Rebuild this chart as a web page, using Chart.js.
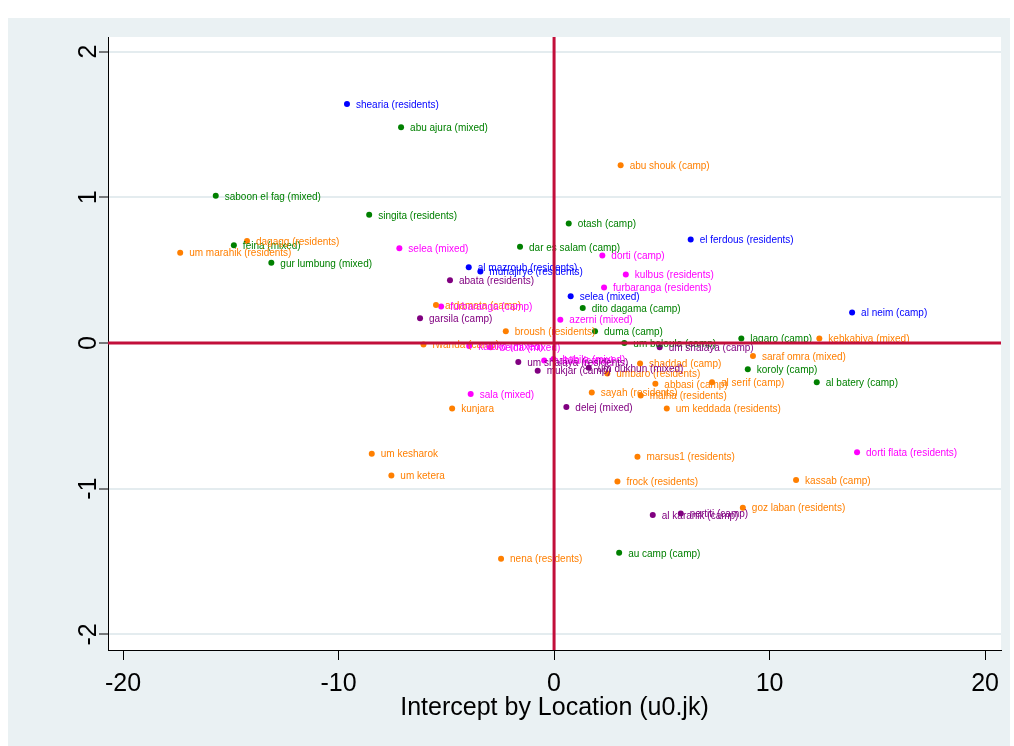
<!DOCTYPE html>
<html>
<head>
<meta charset="utf-8">
<script src="https://cdn.jsdelivr.net/npm/chart.js@4.4.1/dist/chart.umd.min.js"></script>
<style>
  html, body { margin: 0; padding: 0; background: #fff; }
  #wrap { position: relative; width: 1014px; height: 746px; }
</style>
</head>
<body>
<div id="wrap"><canvas id="chart" width="1014" height="746"></canvas></div>
<script>
// Location intercepts (u0.jk) vs second random effect, one colour per group

const xTickValues = [-20, -10, 0, 10, 20];
const yTickValues = [-2, -1, 0, 1, 2];

const blueNames = ['shearia (residents)', 'el ferdous (residents)', 'al mazroub (residents)', 'muhajirye (residents)', 'selea (mixed)', 'al neim (camp)'];
const blueX = [-9.61, 6.34, -3.96, -3.42, 0.77, 13.83];
const blueY = [1.64, 0.71, 0.52, 0.49, 0.32, 0.21];

const greenNames = ['abu ajura (mixed)', 'saboon el fag (mixed)', 'singita (residents)', 'feina (mixed)', 'gur lumbung (mixed)', 'otash (camp)', 'dar es salam (camp)', 'dito dagama (camp)', 'duma (camp)', 'um baloula (camp)', 'lagaro (camp)', 'koroly (camp)', 'al batery (camp)', 'au camp (camp)'];
const greenX = [-7.10, -15.70, -8.58, -14.86, -13.12, 0.68, -1.58, 1.33, 1.90, 3.26, 8.69, 8.99, 12.19, 3.02];
const greenY = [1.48, 1.01, 0.88, 0.67, 0.55, 0.82, 0.66, 0.24, 0.08, 0.00, 0.03, -0.18, -0.27, -1.44];

const orangeNames = ['dagagg (residents)', 'um marahik (residents)', 'abu shouk (camp)', 'ardamata (camp)', 'broush (residents)', 'rwanda (camp)', 'kebkabiya (mixed)', 'saraf omra (mixed)', 'al serif (camp)', 'shaddad (camp)', 'umbaro (residents)', 'abbasi (camp)', 'sayah (residents)', 'malha (residents)', 'um keddada (residents)', 'kunjara', 'um kesharok', 'um ketera', 'marsus1 (residents)', 'frock (residents)', 'nena (residents)', 'kassab (camp)', 'goz laban (residents)'];
const orangeX = [-14.25, -17.35, 3.09, -5.48, -2.24, -6.06, 12.31, 9.23, 7.33, 3.99, 2.47, 4.70, 1.75, 4.02, 5.23, -4.73, -8.46, -7.55, 3.87, 2.94, -2.46, 11.23, 8.76];
const orangeY = [0.70, 0.62, 1.22, 0.26, 0.08, -0.01, 0.03, -0.09, -0.27, -0.14, -0.21, -0.28, -0.34, -0.36, -0.45, -0.45, -0.76, -0.91, -0.78, -0.95, -1.48, -0.94, -1.13];

const magentaNames = ['selea (mixed)', 'dorti (camp)', 'kulbus (residents)', 'furbaranga (residents)', 'furbaranga (camp)', 'azerni (mixed)', 'kaloko (mixed)', 'beida (mixed)', 'habila (camp)', 'habila (mixed)', 'sala (mixed)', 'dorti flata (residents)'];
const magentaX = [-7.18, 2.24, 3.33, 2.32, -5.24, 0.29, -3.94, -2.94, -0.46, -0.03, -3.87, 14.06];
const magentaY = [0.65, 0.60, 0.47, 0.38, 0.25, 0.16, -0.02, -0.03, -0.12, -0.11, -0.35, -0.75];

const purpleNames = ['abata (residents)', 'garsila (camp)', 'um shalaya (camp)', 'um shalaya (residents)', 'um dukhun (mixed)', 'mukjar (camp)', 'delej (mixed)', 'al karanik (camp)', 'nertiti (camp)'];
const purpleX = [-4.83, -6.22, 4.90, -1.66, 1.61, -0.76, 0.57, 4.58, 5.88];
const purpleY = [0.43, 0.17, -0.03, -0.13, -0.17, -0.19, -0.44, -1.18, -1.17];

function makeSet(names, xs, ys, color) {
  return {
    data: xs.map((x, i) => ({ x: x, y: ys[i] })),
    names: names,
    backgroundColor: color,
    pointBackgroundColor: color,
    pointBorderWidth: 0,
    pointRadius: 3,
    pointHoverRadius: 3
  };
}

const background = {
  id: 'background',
  beforeDraw(chart) {
    const { ctx, chartArea } = chart;
    ctx.save();
    ctx.fillStyle = '#ffffff';
    ctx.fillRect(0, 0, chart.width, chart.height);
    ctx.fillStyle = '#EAF1F3';
    ctx.fillRect(8, 18, 1002, 728);
    ctx.fillStyle = '#ffffff';
    ctx.fillRect(chartArea.left, chartArea.top, chartArea.right - chartArea.left, chartArea.bottom - chartArea.top);
    ctx.restore();
  }
};

const markerLabels = {
  id: 'markerLabels',
  afterDatasetsDraw(chart) {
    const ctx = chart.ctx;
    ctx.save();
    ctx.font = '10px "Liberation Sans", Arial, sans-serif';
    ctx.textAlign = 'left';
    ctx.textBaseline = 'middle';
    chart.data.datasets.forEach((ds, i) => {
      const meta = chart.getDatasetMeta(i);
      ctx.fillStyle = ds.backgroundColor;
      meta.data.forEach((pt, j) => {
        ctx.fillText(ds.names[j], pt.x + 9, pt.y + 1);
      });
    });

    // reference lines at zero
    const xs = chart.scales.x, ys = chart.scales.y, area = chart.chartArea;
    ctx.strokeStyle = '#C20E3A';
    ctx.lineWidth = 3;
    ctx.beginPath();
    const x0 = xs.getPixelForValue(0);
    ctx.moveTo(x0, area.top);
    ctx.lineTo(x0, area.bottom);
    const y0 = ys.getPixelForValue(0);
    ctx.moveTo(area.left, y0);
    ctx.lineTo(area.right, y0);
    ctx.stroke();
    ctx.restore();
  }
};

const rotatedYLabels = {
  id: 'rotatedYLabels',
  afterDraw(chart) {
    const ctx = chart.ctx;
    const scale = chart.scales.y;
    ctx.save();
    ctx.fillStyle = '#000';
    ctx.font = '25px "Liberation Sans", Arial, sans-serif';
    ctx.textAlign = 'center';
    ctx.textBaseline = 'middle';
    scale.ticks.forEach(t => {
      const py = scale.getPixelForValue(t.value);
      ctx.save();
      ctx.translate(89, py);
      ctx.rotate(-Math.PI / 2);
      ctx.fillText(String(t.value), 0, 0);
      ctx.restore();
    });
    ctx.restore();
  }
};

Chart.defaults.font.family = '"Liberation Sans", Arial, sans-serif';

new Chart(document.getElementById('chart'), {
  type: 'scatter',
  data: {
    datasets: [
      makeSet(blueNames, blueX, blueY, '#0000FF'),
      makeSet(greenNames, greenX, greenY, '#008000'),
      makeSet(orangeNames, orangeX, orangeY, '#FF7F00'),
      makeSet(magentaNames, magentaX, magentaY, '#FF00FF'),
      makeSet(purpleNames, purpleX, purpleY, '#800080')
    ]
  },
  options: {
    responsive: false,
    animation: false,
    events: [],
    layout: { padding: { left: 0, top: 37, right: 13, bottom: 0 } },
    plugins: {
      legend: { display: false },
      tooltip: { enabled: false }
    },
    scales: {
      x: {
        type: 'linear',
        min: -20.7,
        max: 20.74,
        afterBuildTicks: s => { s.ticks = xTickValues.map(v => ({ value: v })); },
        afterFit: s => { s.height = 96; },
        ticks: { color: '#000', font: { size: 25 }, padding: 9, maxRotation: 0 },
        grid: { drawOnChartArea: false, tickColor: '#000', tickLength: 10, tickWidth: 1 },
        border: { color: '#000', width: 1 },
        title: {
          display: true,
          text: 'Intercept by Location (u0.jk)',
          color: '#000',
          font: { size: 25 },
          padding: { top: 0, bottom: 23 }
        }
      },
      y: {
        min: -2.107,
        max: 2.1,
        afterBuildTicks: s => { s.ticks = yTickValues.map(v => ({ value: v })); },
        afterFit: s => { s.width = 108; },
        ticks: { color: 'rgba(0,0,0,0)', font: { size: 25 } },
        grid: { color: '#E4ECEF', lineWidth: 2, tickColor: '#000', tickWidth: 1, tickLength: 9 },
        border: { color: '#000', width: 1 }
      }
    }
  },
  plugins: [background, markerLabels, rotatedYLabels]
});
</script>
</body>
</html>
